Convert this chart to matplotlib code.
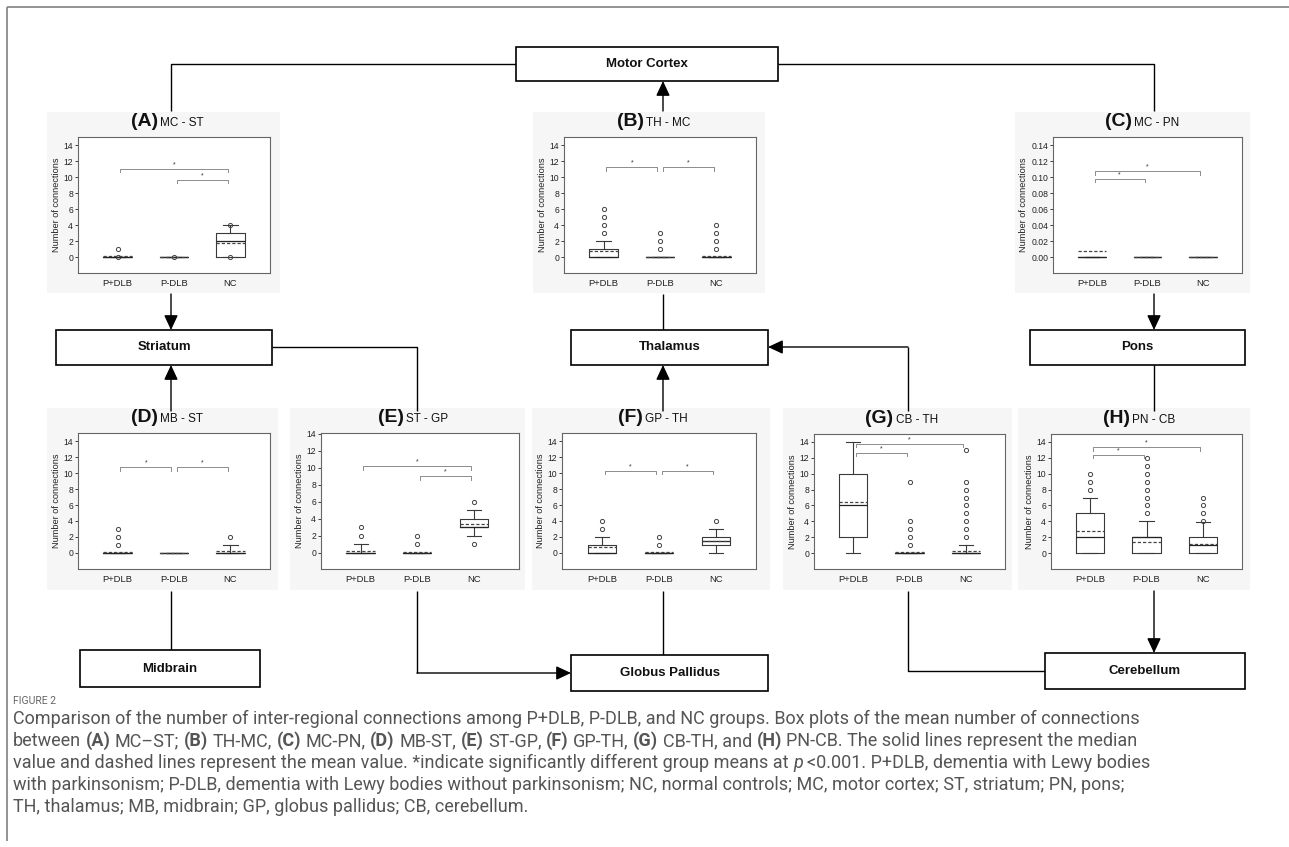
import matplotlib
matplotlib.use("Agg")
import matplotlib.pyplot as plt
from matplotlib.patches import Rectangle
from matplotlib.ticker import FormatStrFormatter

plt.rcParams['font.family'] = ['Liberation Sans', 'DejaVu Sans']

W, H = 1289, 847
DPI = 100

# ---------------- data ----------------
groups = ["P+DLB", "P-DLB", "NC"]
panel_letters = ["A", "B", "C", "D", "E", "F", "G", "H"]
panel_names = ["MC - ST", "TH - MC", "MC - PN", "MB - ST", "ST - GP", "GP - TH", "CB - TH", "PN - CB"]

medians = [[0, 0, 2], [0, 0, 0], [0, 0, 0], [0, 0, 0], [0, 0, 3], [0, 0, 1.5], [6, 0, 0], [2, 2, 1]]
q1s = [[0, 0, 0], [0, 0, 0], [0, 0, 0], [0, 0, 0], [0, 0, 3], [0, 0, 1], [2, 0, 0], [0, 0, 0]]
q3s = [[0, 0, 3], [1, 0, 0], [0, 0, 0], [0, 0, 0], [0, 0, 4], [1, 0, 2], [10, 0, 0], [5, 2, 2]]
whisk_lo = [[0, 0, 0], [0, 0, 0], [0, 0, 0], [0, 0, 0], [0, 0, 2], [0, 0, 0], [0, 0, 0], [0, 0, 0]]
whisk_hi = [[0, 0, 4], [2, 0, 0], [0, 0, 0], [0, 0, 1], [1, 0, 5], [2, 0, 3], [14, 0, 1], [7, 4, 3.9]]
means = [[0.1, 0, 1.7], [0.7, 0, 0.1], [0.007, 0, 0], [0.1, 0, 0.3],
         [0.2, 0.1, 3.4], [0.7, 0.1, 1.5], [6.4, 0.1, 0.3], [2.8, 1.4, 1.2]]
outliers = [
    [[0, 1], [0], [0, 4]],
    [[3, 4, 5, 6], [1, 2, 3], [1, 2, 3, 4]],
    [[], [], []],
    [[1, 2, 3], [], [2]],
    [[2, 3], [1, 2], [1, 6]],
    [[3, 4], [1, 2], [4]],
    [[], [1, 2, 3, 4, 9], [2, 3, 4, 5, 6, 7, 8, 9, 13]],
    [[8, 9, 10], [5, 6, 7, 8, 9, 10, 11, 12], [4, 5, 6, 7]],
]
sig_pairs = [
    [(0, 2, 11.0), (1, 2, 9.6)],
    [(0, 1, 11.2), (1, 2, 11.2)],
    [(0, 2, 0.107), (0, 1, 0.098)],
    [(0, 1, 10.7), (1, 2, 10.7)],
    [(0, 2, 10.2), (1, 2, 9.0)],
    [(0, 1, 10.3), (1, 2, 10.3)],
    [(0, 2, 13.7), (0, 1, 12.6)],
    [(0, 2, 13.3), (0, 1, 12.4)],
]
yticks_int = [0, 2, 4, 6, 8, 10, 12, 14]
yticks_c = [0.00, 0.02, 0.04, 0.06, 0.08, 0.10, 0.12, 0.14]

# ---------------- layout (pixels) ----------------
axes_px = [(78, 137, 270, 273), (564, 137, 756, 273), (1053, 137, 1242, 273),
           (78, 433, 270, 569), (321, 433, 519, 569), (562, 433, 756, 569),
           (814, 434, 1005, 569), (1051, 434, 1242, 569)]
bg_px = [(47, 112, 280, 293), (533, 112, 765, 293), (1015, 112, 1250, 293),
         (47, 408, 278, 590), (290, 408, 525, 590), (532, 408, 770, 590),
         (783, 408, 1012, 590), (1018, 408, 1250, 590)]

fig = plt.figure(figsize=(W / DPI, H / DPI), dpi=DPI)
ov = fig.add_axes([0, 0, 1, 1])
ov.set_xlim(0, W)
ov.set_ylim(H, 0)
ov.axis('off')

# outer frame (top + left)
ov.plot([7, 7], [7, 841], color='#8a8a8a', lw=1.3, solid_capstyle='butt')
ov.plot([7, W], [7, 7], color='#8a8a8a', lw=1.3, solid_capstyle='butt')

for (x0, y0, x1, y1) in bg_px:
    ov.add_patch(Rectangle((x0, y0), x1 - x0, y1 - y0, fc='#f6f6f6', ec='none', zorder=0))

box_c = '#3a3a3a'
for k in range(8):
    x0, y0, x1, y1 = axes_px[k]
    ax = fig.add_axes([x0 / W, 1 - y1 / H, (x1 - x0) / W, (y1 - y0) / H])
    stats = []
    for g in range(3):
        stats.append(dict(med=medians[k][g], q1=q1s[k][g], q3=q3s[k][g],
                          whislo=whisk_lo[k][g], whishi=whisk_hi[k][g],
                          mean=means[k][g], fliers=outliers[k][g], label=groups[g]))
    ax.bxp(stats, positions=[1, 2, 3], widths=0.5, showmeans=True, meanline=True,
           capwidths=0.25,
           boxprops=dict(color=box_c, lw=0.8),
           whiskerprops=dict(color=box_c, lw=0.8),
           capprops=dict(color=box_c, lw=0.8),
           medianprops=dict(color='#222222', lw=0.9),
           meanprops=dict(color='#444444', lw=0.9, ls=(0, (2.6, 1.6))),
           flierprops=dict(marker='o', ms=3.0, mfc='none', mec='#444444', mew=0.7))
    if k == 2:
        ax.set_ylim(-0.02, 0.15)
        ax.set_yticks(yticks_c)
        ax.yaxis.set_major_formatter(FormatStrFormatter('%.2f'))
        tick_d = 0.004
    elif k == 4:
        ax.set_ylim(-1.9, 14.1)
        ax.set_yticks(yticks_int)
        tick_d = 0.4
    else:
        ax.set_ylim(-2, 15)
        ax.set_yticks(yticks_int)
        tick_d = 0.4
    ax.set_xlim(0.3, 3.8 if k == 4 else 3.7)
    ax.set_xticks([1, 2, 3])
    ax.set_xticklabels(groups)
    ax.tick_params(axis='y', length=2, width=0.6, pad=1.5, labelsize=6.2, colors='#222222')
    ax.tick_params(axis='x', length=0, pad=4.5, labelsize=6.8, colors='#222222')
    for s in ax.spines.values():
        s.set_color('#666666')
        s.set_linewidth(0.8)
    ax.set_ylabel("Number of connections", fontsize=6.6, labelpad=2, color='#222222')
    for (i, j, yv) in sig_pairs[k]:
        xa, xb = i + 1 + 0.05, j + 1 - 0.05
        ax.plot([xa, xa, xb, xb], [yv - tick_d, yv, yv, yv - tick_d], color='#8c8c8c', lw=0.7)
        ax.annotate('*', xy=((xa + xb) / 2, yv), xytext=(0, 0.5), textcoords='offset points',
                    ha='center', va='bottom', fontsize=5, color='#333333')
    # panel title
    cx = (x0 + x1) / 2
    ov.text(cx - 16, y0 - 11, f"({panel_letters[k]})", ha='right', va='baseline',
            fontsize=14, fontweight='bold', color='#111111')
    ov.text(cx - 14, y0 - 11, panel_names[k], ha='left', va='baseline',
            fontsize=8.5, color='#111111')

# ---------------- flowchart ----------------
node_boxes = {
    "Motor Cortex": (516, 47, 778, 81),
    "Striatum": (56, 330, 272, 365),
    "Thalamus": (571, 330, 768, 365),
    "Pons": (1030, 330, 1245, 365),
    "Midbrain": (80, 650, 260, 687),
    "Globus Pallidus": (571, 655, 768, 691),
    "Cerebellum": (1045, 653, 1245, 689),
}
for name, (x0, y0, x1, y1) in node_boxes.items():
    ov.add_patch(Rectangle((x0, y0), x1 - x0, y1 - y0, fc='white', ec='black', lw=1.2, zorder=3))
    ov.text((x0 + x1) / 2, (y0 + y1) / 2, name, ha='center', va='center',
            fontsize=9.5, fontweight='bold', color='#111111', zorder=4)


def line(xs, ys):
    ov.plot(xs, ys, color='black', lw=1.0, zorder=2, solid_capstyle='butt')


def arrow(p0, p1):
    ov.annotate('', xy=p1, xytext=p0,
                arrowprops=dict(arrowstyle='-|>,head_length=0.9,head_width=0.42',
                                color='black', lw=1.0, shrinkA=0, shrinkB=0,
                                mutation_scale=10), zorder=2)


line([516, 171, 171], [64, 64, 111])
line([778, 1154, 1154], [64, 64, 111])
arrow((663, 111), (663, 81))
arrow((171, 294), (171, 330))
arrow((171, 411), (171, 365))
line([272, 417, 417], [347, 347, 411])
line([417, 417], [591, 673])
arrow((417, 673), (571, 673))
line([663, 663], [294, 330])
arrow((663, 411), (663, 365))
line([908, 908], [411, 347])
arrow((908, 347), (768, 347))
line([908, 908, 1045], [591, 671, 671])
arrow((1154, 294), (1154, 330))
line([1154, 1154], [365, 411])
arrow((1154, 591), (1154, 653))
line([171, 171], [591, 650])
line([663, 663], [591, 655])

# ---------------- caption ----------------
cap_color = '#555555'
cap_family = ['Roboto', 'Liberation Sans', 'DejaVu Sans']
cap_lines = [
    [("Comparison of the number of inter-regional connections among P+DLB, P-DLB, and NC groups. "
      "Box plots of the mean number of connections", "n")],
    [("between ", "n"), ("(A)", "b"), (" MC\u2013ST; ", "n"), ("(B)", "b"), (" TH-MC, ", "n"),
     ("(C)", "b"), (" MC-PN, ", "n"), ("(D)", "b"), (" MB-ST, ", "n"), ("(E)", "b"),
     (" ST-GP, ", "n"), ("(F)", "b"), (" GP-TH, ", "n"), ("(G)", "b"), (" CB-TH, and ", "n"),
     ("(H)", "b"), (" PN-CB. The solid lines represent the median", "n")],
    [("value and dashed lines represent the mean value. *indicate significantly different group means at ", "n"),
     ("p", "i"), (" <0.001. P+DLB, dementia with Lewy bodies", "n")],
    [("with parkinsonism; P-DLB, dementia with Lewy bodies without parkinsonism; NC, normal controls; "
      "MC, motor cortex; ST, striatum; PN, pons;", "n")],
    [("TH, thalamus; MB, midbrain; GP, globus pallidus; CB, cerebellum.", "n")],
]
cap_y = [724, 746, 768, 790, 812]

renderer = fig.canvas.get_renderer()


def text_w(s, size, st):
    t = ov.text(0, 0, s, fontsize=size, family=cap_family,
                fontweight='bold' if st == 'b' else 'normal',
                fontstyle='italic' if st == 'i' else 'normal')
    w = t.get_window_extent(renderer).width
    t.remove()
    return w


w10 = text_w(cap_lines[0][0][0], 10, 'n')
cap_size = min(10 * 1130 / w10, 13)
space_w = text_w("x x", cap_size, 'n') - text_w("xx", cap_size, 'n')

for segs, yb in zip(cap_lines, cap_y):
    x = 13
    for s, st in segs:
        lead = len(s) - len(s.lstrip(' '))
        trail = len(s) - len(s.rstrip(' '))
        core = s.strip(' ')
        x += lead * space_w
        ov.text(x, yb, core, fontsize=cap_size, family=cap_family, color=cap_color,
                fontweight='bold' if st == 'b' else 'normal',
                fontstyle='italic' if st == 'i' else 'normal',
                ha='left', va='baseline')
        x += text_w(core, cap_size, st) + trail * space_w

ov.text(13, 701, "FIGURE 2", fontsize=7.5, family=cap_family, color='#666666',
        ha='left', va='center')

fig.savefig("out.png", dpi=DPI)
